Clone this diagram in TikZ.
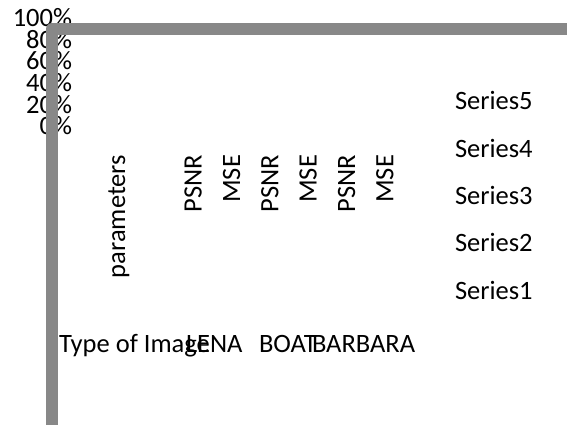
\documentclass[tikz,border=0pt]{standalone}
\usepackage{fontspec}
\setmainfont{Carlito}
\definecolor{axisgrey}{RGB}{136,136,136}
\begin{document}
\begin{tikzpicture}[x=1pt,y=-1pt,
  lbl/.style={inner sep=0pt,outer sep=0pt,font=\fontsize{26.5}{31}\selectfont},
  pct/.style={lbl,anchor=base east},
  vlbl/.style={lbl,rotate=90,anchor=base east},
  hlbl/.style={lbl,anchor=base west},
  axisbar/.style={draw=axisgrey,line width=12pt,line join=round}]
\useasboundingbox (0,0) rectangle (567,425);
% percentage axis labels
\node[pct] (p100) at (72,26.7) {100\%};
\node[pct] (p80) at (72,48.3) {80\%};
\node[pct] (p60) at (72,70) {60\%};
\node[pct] (p40) at (72,91.7) {40\%};
\node[pct] (p20) at (72,113.3) {20\%};
\node[pct] (p0) at (72,135) {0\%};
% rotated category labels
\node[vlbl] (param) at (125,155) {parameters};
\node[vlbl] (psnr1) at (201.7,155) {PSNR};
\node[vlbl] (mse1) at (240,155) {MSE};
\node[vlbl] (psnr2) at (278.3,155) {PSNR};
\node[vlbl] (mse2) at (316.7,155) {MSE};
\node[vlbl] (psnr3) at (355,155) {PSNR};
\node[vlbl] (mse3) at (393.3,155) {MSE};
% bottom labels
\node[hlbl] (type) at (59,352.3) {Type of Image};
\node[hlbl] (lena) at (186,352.3) {LENA};
\node[hlbl] (boat) at (259,352.3) {BOAT};
\node[hlbl] (barb) at (312,352.3) {BARBARA};
% legend
\node[hlbl] (s5) at (455,110) {Series5};
\node[hlbl] (s4) at (455,157.3) {Series4};
\node[hlbl] (s3) at (455,204.3) {Series3};
\node[hlbl] (s2) at (455,251.6) {Series2};
\node[hlbl] (s1) at (455,299) {Series1};
% axis bars
\coordinate (axbot) at (52,425);
\coordinate (axcorner) at (52,29);
\coordinate (axright) at (567,29);
\draw[axisbar] (axbot) -- (axcorner) -- (axright);
\end{tikzpicture}
\end{document}
